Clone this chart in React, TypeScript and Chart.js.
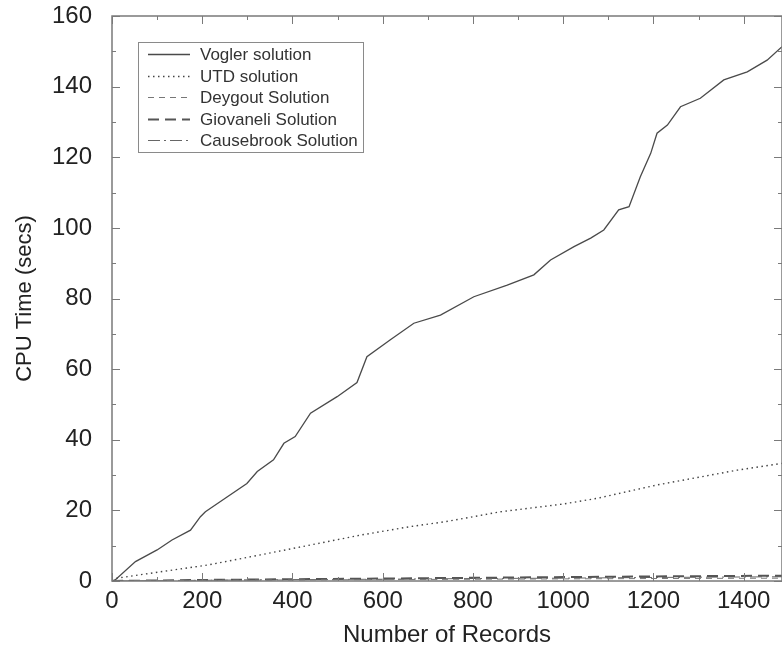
import React, { useEffect, useRef } from "react";
import { Chart, registerables } from "chart.js";

Chart.register(...registerables);

// ---- data ----
const voglerX = [0, 7, 52, 100, 133, 174, 196, 207, 255, 299, 322, 358, 381, 406, 440, 499, 543, 565, 617, 669, 728, 802, 876, 935, 972, 1024, 1061, 1090, 1123, 1146, 1171, 1194, 1208, 1231, 1260, 1304, 1356, 1408, 1452, 1485];
const voglerY = [0, 0.3, 5.5, 8.8, 11.6, 14.4, 18.2, 19.6, 23.8, 27.6, 31, 34.3, 39, 40.9, 47.5, 52.2, 56.2, 63.5, 68.3, 73, 75.3, 80.5, 83.8, 86.7, 90.9, 94.7, 97.1, 99.4, 105.1, 106, 114.5, 121.1, 126.8, 129.1, 134.3, 136.7, 141.9, 144.2, 147.5, 151.3];

const utdX = [0, 11, 107, 211, 329, 440, 551, 661, 739, 861, 1000, 1075, 1208, 1386, 1485];
const utdY = [0, 0.8, 2.6, 4.5, 7.4, 10.2, 13, 15.4, 16.8, 19.6, 21.8, 23.4, 27.2, 31.4, 33.3];

const lowX = [0, 200, 400, 600, 800, 1000, 1200, 1485];
const deygoutY = [0, 0.2, 0.3, 0.4, 0.5, 0.6, 0.7, 0.8];
const giovaneliY = [0, 0.3, 0.5, 0.7, 0.9, 1.1, 1.3, 1.5];
const causebrookY = [0, 0.2, 0.4, 0.5, 0.7, 0.8, 1.0, 1.2];

const seriesLabels = ["Vogler solution", "UTD solution", "Deygout Solution", "Giovaneli Solution", "Causebrook Solution"];

const X_MIN = 0;
const X_MAX = 1485;
const X_STEP = 200;
const X_MINOR = 100;
const Y_MIN = 0;
const Y_MAX = 160;
const Y_STEP = 20;
const Y_MINOR = 10;

const toPts = (xs: number[], ys: number[]) => xs.map((x, i) => ({ x, y: ys[i] }));

const FONT = "'Liberation Sans', Arial, Helvetica, sans-serif";

const frameTicks = {
  id: "frameTicks",
  afterDatasetsDraw(chart: any) {
    const { ctx, chartArea: a, scales } = chart;
    const xs = scales.x;
    const ys = scales.y;
    ctx.save();
    ctx.strokeStyle = "#7a7a7a";
    ctx.lineWidth = 1.5;
    ctx.setLineDash([]);
    ctx.strokeRect(a.left, a.top, a.right - a.left, a.bottom - a.top);
    ctx.lineWidth = 1;
    const seg = (x1: number, y1: number, x2: number, y2: number) => {
      ctx.beginPath();
      ctx.moveTo(x1, y1);
      ctx.lineTo(x2, y2);
      ctx.stroke();
    };
    for (let v = X_MIN; v <= X_MAX; v += X_MINOR) {
      const px = Math.round(xs.getPixelForValue(v)) + 0.5;
      const len = v % X_STEP === 0 ? 8 : 4;
      seg(px, a.bottom, px, a.bottom - len);
      seg(px, a.top, px, a.top + len);
    }
    for (let v = Y_MIN; v <= Y_MAX; v += Y_MINOR) {
      const py = Math.round(ys.getPixelForValue(v)) + 0.5;
      const len = v % Y_STEP === 0 ? 8 : 4;
      seg(a.left, py, a.left + len, py);
      seg(a.right, py, a.right - len, py);
    }
    ctx.restore();
  },
};

const boxLegend = {
  id: "boxLegend",
  afterDraw(chart: any) {
    const { ctx } = chart;
    const left = 138, top = 42, width = 225, height = 110;
    const rowH = 21.6, firstRow = 54;
    ctx.save();
    ctx.fillStyle = "#ffffff";
    ctx.fillRect(left, top, width, height);
    ctx.strokeStyle = "#8a8a8a";
    ctx.lineWidth = 1;
    ctx.setLineDash([]);
    ctx.strokeRect(left + 0.5, top + 0.5, width, height);
    ctx.font = `17px ${FONT}`;
    ctx.textBaseline = "middle";
    ctx.textAlign = "left";
    chart.data.datasets.forEach((ds: any, i: number) => {
      const y = Math.round(firstRow + i * rowH) + 0.5;
      ctx.strokeStyle = ds.borderColor;
      ctx.lineWidth = ds.borderWidth;
      ctx.setLineDash(ds.borderDash || []);
      ctx.beginPath();
      ctx.moveTo(148, y);
      ctx.lineTo(190, y);
      ctx.stroke();
      ctx.setLineDash([]);
      ctx.fillStyle = "#333";
      ctx.fillText(ds.label, 200, y + 1);
    });
    ctx.restore();
  },
};

export default function App() {
  const ref = useRef<HTMLCanvasElement | null>(null);
  useEffect(() => {
    if (!ref.current) return;
    Chart.defaults.font.family = FONT;
    const chart = new Chart(ref.current, {
      type: "line",
      data: {
        datasets: [
          { label: seriesLabels[0], data: toPts(voglerX, voglerY), borderColor: "#4a4a4a", borderWidth: 1.3, borderDash: [], pointRadius: 0, tension: 0 },
          { label: seriesLabels[1], data: toPts(utdX, utdY), borderColor: "#444", borderWidth: 1.4, borderDash: [1.5, 3.5], pointRadius: 0, tension: 0 },
          { label: seriesLabels[2], data: toPts(lowX, deygoutY), borderColor: "#777", borderWidth: 1, borderDash: [6, 5], pointRadius: 0, tension: 0 },
          { label: seriesLabels[3], data: toPts(lowX, giovaneliY), borderColor: "#555", borderWidth: 2, borderDash: [11, 6], pointRadius: 0, tension: 0 },
          { label: seriesLabels[4], data: toPts(lowX, causebrookY), borderColor: "#666", borderWidth: 1, borderDash: [12, 4, 2, 4], pointRadius: 0, tension: 0 },
        ],
      },
      options: {
        animation: false,
        responsive: false,
        devicePixelRatio: 1,
        parsing: false as any,
        layout: { padding: { top: 16, right: 0, left: 0, bottom: 0 } },
        plugins: { legend: { display: false }, tooltip: { enabled: false } },
        scales: {
          x: {
            type: "linear",
            min: X_MIN,
            max: X_MAX,
            border: { display: false },
            grid: { display: false, drawTicks: false },
            ticks: { stepSize: X_STEP, includeBounds: false, padding: 6, color: "#222", maxRotation: 0, font: { size: 24, family: FONT }, callback: (v: any) => String(v) },
            title: { display: true, text: "Number of Records", color: "#222", font: { size: 24, family: FONT }, padding: { top: 1, bottom: 0 } },
            afterFit: (s: any) => { s.height = 69; s.paddingLeft = 0; s.paddingRight = 0; },
          },
          y: {
            type: "linear",
            min: Y_MIN,
            max: Y_MAX,
            border: { display: false },
            grid: { display: false, drawTicks: false },
            ticks: { stepSize: Y_STEP, includeBounds: false, padding: 20, color: "#222", font: { size: 24, family: FONT }, callback: (v: any) => String(v) },
            title: { display: true, text: "CPU Time (secs)", color: "#222", font: { size: 22, family: FONT }, padding: { top: 12, bottom: 0 } },
            afterFit: (s: any) => { s.width = 112; s.paddingTop = 0; s.paddingBottom = 0; },
          },
        },
      },
      plugins: [frameTicks, boxLegend],
    });
    return () => chart.destroy();
  }, []);
  return (
    <div style={{ position: "absolute", left: 0, top: 0, width: 782, height: 650, background: "#fff" }}>
      <canvas ref={ref} width={782} height={650} style={{ display: "block" }} />
    </div>
  );
}
